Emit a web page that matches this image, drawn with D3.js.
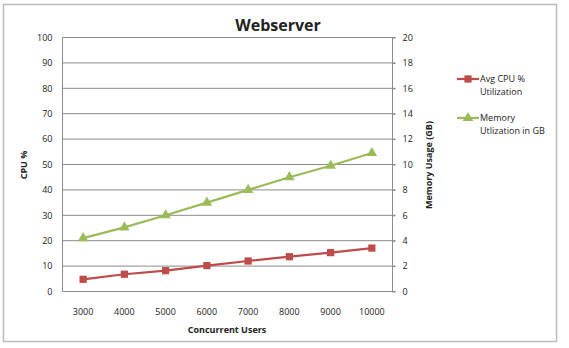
<!DOCTYPE html>
<html><head><meta charset="utf-8">
<script src="https://cdn.jsdelivr.net/npm/d3@7"></script>
<style>
body{margin:0;background:#fff;}
text{font-family:"Open Sans","Noto Sans",sans-serif;fill:#222;}
</style></head>
<body><svg id="c" width="569" height="348"></svg>
<script>
const categories = ["3000","4000","5000","6000","7000","8000","9000","10000"];
const cpuValues = [4.8, 6.8, 8.2, 10.2, 12.0, 13.7, 15.3, 17.1];
const memValues = [4.2, 5.05, 6.0, 7.0, 8.0, 9.0, 9.9, 10.9];
const leftTicks = [0,10,20,30,40,50,60,70,80,90,100];
const rightTicks = [0,2,4,6,8,10,12,14,16,18,20];
const seriesNames = [["Avg CPU %","Utilization"],["Memory","Utlization in GB"]];

const svg = d3.select("#c");
svg.append("rect").attr("x",3.5).attr("y",4.5).attr("width",553).attr("height",337)
  .attr("fill","#fff").attr("stroke","#bdbdbd").attr("stroke-width",1.5);

const L=62.5, R=392.5, T=37.5, B=291.5;
const x = d3.scaleBand().domain(categories).range([L,R]);
const yL = d3.scaleLinear().domain([0,100]).range([B,T]);
const yR = d3.scaleLinear().domain([0,20]).range([B,T]);

// gridlines
svg.append("g").selectAll("line").data(leftTicks.slice(1)).join("line")
  .attr("x1",L).attr("x2",R+3).attr("y1",d=>yL(d)).attr("y2",d=>yL(d))
  .attr("stroke","#8a8a8a").attr("stroke-width",1);

// axes lines
svg.append("line").attr("x1",L).attr("x2",L).attr("y1",T).attr("y2",B).attr("stroke","#8a8a8a");
svg.append("line").attr("x1",R).attr("x2",R).attr("y1",T).attr("y2",B).attr("stroke","#8a8a8a");
svg.append("line").attr("x1",L).attr("x2",R+3).attr("y1",B).attr("y2",B).attr("stroke","#8a8a8a");

const fs = "9px";
// left tick labels
const gl = svg.append("g").attr("transform",`translate(${L},0)`)
  .call(d3.axisLeft(yL).tickValues(leftTicks).tickSize(0).tickPadding(10));
gl.select(".domain").remove();
gl.selectAll("text").attr("font-size",fs).attr("font-family","'Open Sans',sans-serif").attr("fill","#222");
// right tick labels
const gr = svg.append("g").attr("transform",`translate(${R},0)`)
  .call(d3.axisRight(yR).tickValues(rightTicks).tickSize(3).tickPadding(7));
gr.select(".domain").remove();
gr.selectAll("line").attr("stroke","#8a8a8a");
gr.selectAll("text").attr("font-size",fs).attr("font-family","'Open Sans',sans-serif").attr("fill","#222");
// x tick labels
const gx = svg.append("g").attr("transform",`translate(0,${B})`)
  .call(d3.axisBottom(x).tickSize(0).tickPadding(17));
gx.select(".domain").remove();
gx.selectAll("text").attr("font-size",fs).attr("font-family","'Open Sans',sans-serif").attr("fill","#222");

const cx = d => x(d)+x.bandwidth()/2;
const cpuColor="#BE4B48", memColor="#9BBB59";

// CPU line
const cpuData = categories.map((c,i)=>({c,v:cpuValues[i]}));
const memData = categories.map((c,i)=>({c,v:memValues[i]}));
svg.append("path").datum(cpuData).attr("fill","none").attr("stroke",cpuColor).attr("stroke-width",2.2)
  .attr("d",d3.line().x(d=>cx(d.c)).y(d=>yL(d.v)));
svg.append("path").datum(memData).attr("fill","none").attr("stroke",memColor).attr("stroke-width",2.2)
  .attr("d",d3.line().x(d=>cx(d.c)).y(d=>yR(d.v)));

const sq = d3.symbol().type(d3.symbolSquare).size(52);
const tri = d3.symbol().type(d3.symbolTriangle).size(48);
svg.append("g").selectAll("path").data(cpuData).join("path")
  .attr("d",sq).attr("transform",d=>`translate(${cx(d.c)},${yL(d.v)})`).attr("fill",cpuColor);
svg.append("g").selectAll("path").data(memData).join("path")
  .attr("d",tri).attr("transform",d=>`translate(${cx(d.c)},${yR(d.v)})`).attr("fill",memColor);

// titles
svg.append("text").attr("x",278).attr("y",31).attr("text-anchor","middle")
  .attr("font-size","16px").attr("font-weight","bold").text("Webserver");
svg.append("text").attr("x",227).attr("y",333).attr("text-anchor","middle")
  .attr("font-size","9px").attr("font-weight","bold").text("Concurrent Users");
svg.append("text").attr("transform","translate(27,165) rotate(-90)").attr("text-anchor","middle")
  .attr("font-size","9px").attr("font-weight","bold").text("CPU %");
svg.append("text").attr("transform","translate(432,165) rotate(-90)").attr("text-anchor","middle")
  .attr("font-size","9px").attr("font-weight","bold").text("Memory Usage (GB)");

// legend
const legY = [79,118];
const legColors=[cpuColor,memColor];
const legSym=[sq,tri];
legY.forEach((ly,i)=>{
  svg.append("line").attr("x1",457).attr("x2",479).attr("y1",ly).attr("y2",ly)
    .attr("stroke",legColors[i]).attr("stroke-width",2.2);
  svg.append("path").attr("d",legSym[i]).attr("transform",`translate(468,${ly})`).attr("fill",legColors[i]);
  seriesNames[i].forEach((t,j)=>{
    svg.append("text").attr("x",480).attr("y",ly+3+j*13).attr("font-size","9px").text(t);
  });
});
</script></body></html>
